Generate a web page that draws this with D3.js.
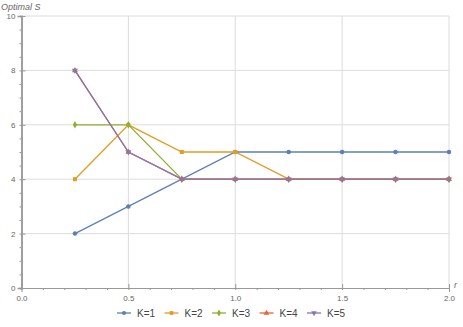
<!DOCTYPE html>
<html>
<head>
<meta charset="utf-8">
<script src="https://cdn.jsdelivr.net/npm/d3@7"></script>
<style>
  body { margin: 0; background: #fff; }
  text { font-family: "Liberation Sans", Arial, sans-serif; }
</style>
</head>
<body>
<script>
// data
var rValues = [0.25, 0.5, 0.75, 1, 1.25, 1.5, 1.75, 2];
var seriesNames = ["K=1", "K=2", "K=3", "K=4", "K=5"];
var k1 = [2, 3, 4, 5, 5, 5, 5, 5];
var k2 = [4, 6, 5, 5, 4, 4, 4, 4];
var k3 = [6, 6, 4, 4, 4, 4, 4, 4];
var k4 = [8, 5, 4, 4, 4, 4, 4, 4];
var k5 = [8, 5, 4, 4, 4, 4, 4, 4];
var xTicks = [0, 0.5, 1, 1.5, 2];
var yTicks = [0, 2, 4, 6, 8, 10];

var colors = ["#5E81B5", "#E19C24", "#8FB032", "#EB6235", "#8778B3"];
var shapes = [d3.symbolCircle, d3.symbolSquare, d3.symbolDiamond, d3.symbolTriangle, d3.symbolTriangle];
var allSeries = [k1, k2, k3, k4, k5];

var W = 463, H = 327;
var svg = d3.select("body").append("svg")
    .attr("width", W)
    .attr("height", H);

var x = d3.scaleLinear().domain([0, 2]).range([21.5, 449]);
var y = d3.scaleLinear().domain([0, 10]).range([288, 16]);

// grid
svg.append("g").selectAll("line")
    .data(xTicks.filter(function(d){ return d > 0; }))
    .enter().append("line")
    .attr("x1", function(d){ return x(d); })
    .attr("x2", function(d){ return x(d); })
    .attr("y1", y(0)).attr("y2", y(10))
    .attr("stroke", "#dcdcdc").attr("stroke-width", 1);
svg.append("g").selectAll("line")
    .data(yTicks.filter(function(d){ return d > 0; }))
    .enter().append("line")
    .attr("x1", x(0)).attr("x2", x(2))
    .attr("y1", function(d){ return y(d); })
    .attr("y2", function(d){ return y(d); })
    .attr("stroke", "#dcdcdc").attr("stroke-width", 1);

// axes
var xAxis = d3.axisBottom(x).tickValues(xTicks).tickFormat(d3.format(".1f")).tickSize(4).tickPadding(3);
var xMinor = d3.axisBottom(x).tickValues(d3.range(0, 2.001, 0.1)).tickFormat("").tickSize(2);
var yAxis = d3.axisLeft(y).tickValues(yTicks).tickFormat(d3.format("d")).tickSize(4).tickPadding(2);
var yMinor = d3.axisLeft(y).tickValues(d3.range(0, 10.001, 0.5)).tickFormat("").tickSize(2);

function styleAxis(g, w) {
  g.select(".domain").attr("stroke", "#999").attr("stroke-width", w);
  g.selectAll(".tick line").attr("stroke", "#999");
  g.selectAll(".tick text").attr("fill", "#666").attr("font-size", "8px");
}

var gx = svg.append("g").attr("transform", "translate(0," + y(0) + ")");
gx.call(xMinor); styleAxis(gx, 1);
var gx2 = svg.append("g").attr("transform", "translate(0," + y(0) + ")");
gx2.call(xAxis); styleAxis(gx2, 1);
gx2.selectAll(".tick line").attr("transform", "translate(0,-4)");

var gy = svg.append("g").attr("transform", "translate(" + x(0) + ",0)");
gy.call(yMinor); styleAxis(gy, 1.5);
var gy2 = svg.append("g").attr("transform", "translate(" + x(0) + ",0)");
gy2.call(yAxis); styleAxis(gy2, 1.5);
gy2.selectAll(".tick line").attr("transform", "translate(4,0)");

// axis labels
svg.append("text")
    .attr("x", 1).attr("y", 10)
    .attr("font-size", "9px").attr("font-style", "italic").attr("fill", "#666")
    .text("Optimal S");
svg.append("text")
    .attr("x", 454).attr("y", 288)
    .attr("font-size", "9px").attr("font-style", "italic").attr("fill", "#666")
    .text("r");

// series
var line = d3.line()
    .x(function(d, i){ return x(rValues[i]); })
    .y(function(d){ return y(d); });

allSeries.forEach(function(s, k) {
  svg.append("path")
      .datum(s)
      .attr("d", line)
      .attr("fill", "none")
      .attr("stroke", colors[k])
      .attr("stroke-width", 1.3);
  svg.append("g").selectAll("path")
      .data(s)
      .enter().append("path")
      .attr("d", d3.symbol().type(shapes[k]).size(16))
      .attr("transform", function(d, i){
        return "translate(" + x(rValues[i]) + "," + y(d) + ")" + (k == 4 ? " rotate(180)" : "");
      })
      .attr("fill", colors[k]);
});

// legend
var legend = svg.append("g");
var item = legend.selectAll("g")
    .data(seriesNames)
    .enter().append("g")
    .attr("transform", function(d, i){ return "translate(" + (117 + i * 47.5) + ",313)"; });
item.append("line")
    .attr("x1", 0).attr("x2", 14).attr("y1", 0).attr("y2", 0)
    .attr("stroke", function(d, i){ return colors[i]; })
    .attr("stroke-width", 1.3);
item.append("path")
    .attr("d", function(d, i){ return d3.symbol().type(shapes[i]).size(14)(); })
    .attr("transform", function(d, i){ return "translate(7,0)" + (i == 4 ? " rotate(180)" : ""); })
    .attr("fill", function(d, i){ return colors[i]; });
item.append("text")
    .attr("x", 20).attr("y", 3.5)
    .attr("font-size", "10px").attr("fill", "#444")
    .text(function(d){ return d; });
</script>
</body>
</html>
